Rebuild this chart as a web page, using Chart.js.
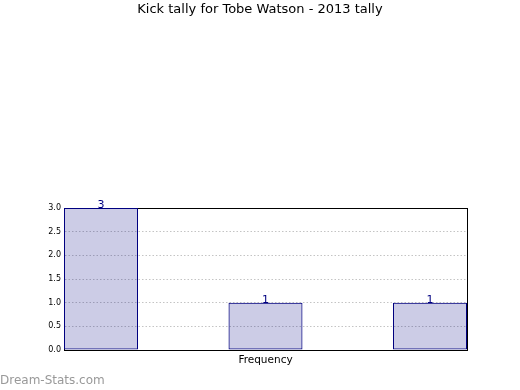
<!DOCTYPE html>
<html><head><meta charset="utf-8">
<script src="https://cdn.jsdelivr.net/npm/chart.js@4"></script>
<style>html,body{margin:0;padding:0;background:#fff}#wrap{width:520px;height:390px}</style>
</head><body><div id="wrap"><canvas id="c" width="520" height="390"></canvas></div>
<script>
const titleText = 'Kick tally for Tobe Watson - 2013 tally';
const xAxisLabel = 'Frequency';
const watermarkText = 'Dream-Stats.com';
const barPositions = [0, 1, 2];
const tallyValues = [3, 1, 1];
const yTickValues = [0, 0.5, 1, 1.5, 2, 2.5, 3];

const FONT = '"DejaVu Sans", Verdana, sans-serif';

const valueLabels = {
  id: 'valueLabels',
  afterDatasetsDraw(chart) {
    const ctx = chart.ctx;
    const meta = chart.getDatasetMeta(0);
    ctx.save();
    ctx.font = '11px ' + FONT;
    ctx.fillStyle = '#000080';
    ctx.textAlign = 'center';
    ctx.textBaseline = 'alphabetic';
    meta.data.forEach((el, i) => {
      ctx.fillText(String(tallyValues[i]), el.x, el.y);
    });
    ctx.restore();
  }
};

new Chart(document.getElementById('c'), {
  type: 'bar',
  data: {
    datasets: [{
      data: barPositions.map((x, i) => ({ x: x, y: tallyValues[i] })),
      backgroundColor: 'rgba(0,0,128,0.2)',
      borderColor: '#000080',
      borderWidth: 1,
      borderSkipped: false,
      barPercentage: 0.45,
      categoryPercentage: 1.0,
      yAxisID: 'y',
      xAxisID: 'x'
    }]
  },
  options: {
    responsive: false,
    animation: false,
    devicePixelRatio: 1,
    layout: { padding: 0 },
    plugins: {
      legend: { display: false },
      tooltip: { enabled: false },
      title: {
        display: true,
        text: titleText,
        color: '#000',
        font: { family: FONT, size: 13, weight: 'normal' },
        padding: { top: 2, bottom: 190.4 }
      },
      subtitle: {
        display: true,
        text: watermarkText,
        position: 'bottom',
        align: 'start',
        color: '#999999',
        font: { family: FONT, size: 12, weight: 'normal' },
        padding: { top: 1, bottom: 2 }
      }
    },
    scales: {
      x: {
        type: 'linear',
        position: 'bottom',
        offset: false,
        min: -0.225,
        max: 2.225,
        afterBuildTicks: (s) => { s.ticks = barPositions.map(v => ({ value: v })); },
        afterFit: (s) => { s.height = 22.6; },
        grid: { display: false, drawTicks: false, offset: false },
        ticks: { display: false },
        border: { display: true, color: '#000', width: 1 },
        title: {
          display: true,
          text: xAxisLabel,
          color: '#000',
          font: { family: FONT, size: 10.5 },
          padding: { top: 0, bottom: 6.5 }
        }
      },
      x2: {
        type: 'linear',
        position: 'top',
        afterFit: (s) => { s.height = 0; },
        grid: { display: false, drawTicks: false },
        ticks: { display: false },
        border: { display: true, color: '#000', width: 1 }
      },
      y: {
        type: 'linear',
        position: 'left',
        min: 0,
        max: 3,
        afterBuildTicks: (s) => { s.ticks = yTickValues.map(v => ({ value: v })); },
        afterFit: (s) => { s.width = 64; },
        grid: { display: true, drawTicks: false, color: '#c4c4c4', lineWidth: 1 },
        border: { display: true, color: '#000', width: 1, dash: [1.5, 2] },
        ticks: {
          color: '#000',
          padding: 3,
          font: { family: FONT, size: 8 },
          callback: (v) => Number(v).toFixed(1)
        }
      },
      y2: {
        type: 'linear',
        position: 'right',
        afterFit: (s) => { s.width = 53; },
        grid: { display: false, drawTicks: false },
        ticks: { display: false },
        border: { display: true, color: '#000', width: 1 }
      }
    }
  },
  plugins: [valueLabels]
});
</script>
</body></html>
